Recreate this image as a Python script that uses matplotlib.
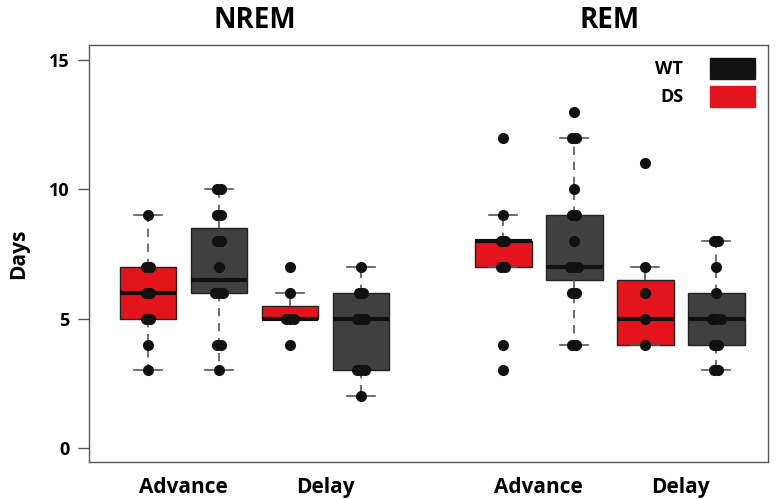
import numpy as np
import matplotlib
matplotlib.use("Agg")
import matplotlib.pyplot as plt
from matplotlib.patches import Patch

plt.rcParams['font.family'] = ['Open Sans', 'DejaVu Sans']
plt.rcParams['font.weight'] = 'bold'

# Data
groups = ["NREM", "REM"]
shifts = ["Advance", "Delay"]
genotypes = ["DS", "WT"]

# points per box, order: NREM Adv DS, NREM Adv WT, NREM Del DS, NREM Del WT, REM ...
nrem_adv_ds = [9, 7, 7, 6, 6, 5, 5, 4, 3]
nrem_adv_wt = [10, 10, 9, 9, 8, 8, 7, 6, 6, 6, 4, 4, 3]
nrem_del_ds = [7, 6, 5, 5, 5, 4]
nrem_del_wt = [7, 6, 6, 5, 5, 5, 3, 3, 3, 2]
rem_adv_ds = [12, 9, 8, 8, 7, 7, 4, 3]
rem_adv_wt = [13, 12, 12, 10, 9, 9, 8, 7, 7, 7, 6, 6, 4, 4]
rem_del_ds = [11, 7, 6, 5, 4]
rem_del_wt = [8, 8, 7, 6, 5, 5, 5, 4, 4, 3, 3]

# box statistics as drawn
q1 = [5, 6, 5, 3, 7, 6.5, 4, 4]
med = [6, 6.5, 5, 5, 8, 7, 5, 5]
q3 = [7, 8.5, 5.5, 6, 8, 9, 6.5, 6]
whislo = [3, 3, 5, 2, 7, 4, 4, 3]
whishi = [9, 10, 6, 7, 9, 12, 7, 8]

points = [nrem_adv_ds, nrem_adv_wt, nrem_del_ds, nrem_del_wt,
          rem_adv_ds, rem_adv_wt, rem_del_ds, rem_del_wt]

RED = "#e3141b"
GREY = "#404040"
colors = {"DS": RED, "WT": GREY}

positions = [1, 2, 3, 4, 6, 7, 8, 9]
box_geno = ["DS", "WT"] * 4

fig = plt.figure(figsize=(7.79, 4.99), dpi=100)
ax = fig.add_axes([0.1143, 0.0741, 0.8717, 0.8357])

stats = []
for i in range(len(positions)):
    stats.append(dict(q1=q1[i], med=med[i], q3=q3[i],
                      whislo=whislo[i], whishi=whishi[i], fliers=[]))

bp = ax.bxp(stats, positions=positions, widths=0.8, patch_artist=True,
            showfliers=False, capwidths=0.4,
            boxprops=dict(edgecolor="#222222", linewidth=1.0),
            medianprops=dict(color="#111111", linewidth=3),
            whiskerprops=dict(color="#555555", linewidth=1.2, linestyle=(0, (5, 4))),
            capprops=dict(color="#555555", linewidth=1.2))
for patch, g in zip(bp["boxes"], box_geno):
    patch.set_facecolor(colors[g])

# points, duplicates spread a little sideways
for pos, vals in zip(positions, points):
    vals = np.array(vals)
    for v in np.unique(vals):
        k = np.sum(vals == v)
        offs = (np.arange(k) - (k - 1) / 2) * 0.06
        ax.plot(pos + offs, [v] * k, "o", color="#111111", markersize=7, zorder=5)

ax.set_xlim(0.17, 9.73)
ax.set_ylim(-0.54, 15.58)
ax.set_yticks([0, 5, 10, 15])
ax.set_xticks([1.5, 3.5, 6.5, 8.5])
ax.set_xticklabels(shifts * 2, fontsize=15, fontweight="bold")
ax.tick_params(axis="x", length=0, pad=11)
ax.tick_params(axis="y", length=8, width=1, color="#555555", labelsize=13, pad=6)
for lab in ax.get_yticklabels():
    lab.set_fontweight("bold")
ax.set_ylabel("Days", fontsize=15, fontweight="bold", labelpad=14)
for sp in ax.spines.values():
    sp.set_color("#555555")
    sp.set_linewidth(1.0)

ax.text(2.5, 1.025, groups[0], transform=ax.get_xaxis_transform(),
        ha="center", va="bottom", fontsize=20, fontweight="bold")
ax.text(7.5, 1.025, groups[1], transform=ax.get_xaxis_transform(),
        ha="center", va="bottom", fontsize=20, fontweight="bold")

handles = [Patch(facecolor="#111111", edgecolor="#111111"),
           Patch(facecolor=RED, edgecolor=RED)]
ax.legend(handles, ["WT", "DS"], loc="upper right", markerfirst=False,
          frameon=False, handlelength=2.5, handleheight=1.4, labelspacing=0.4,
          handletextpad=1.5, borderaxespad=0.3,
          prop=dict(weight="bold", size=13))

fig.savefig("out.png", dpi=100)
